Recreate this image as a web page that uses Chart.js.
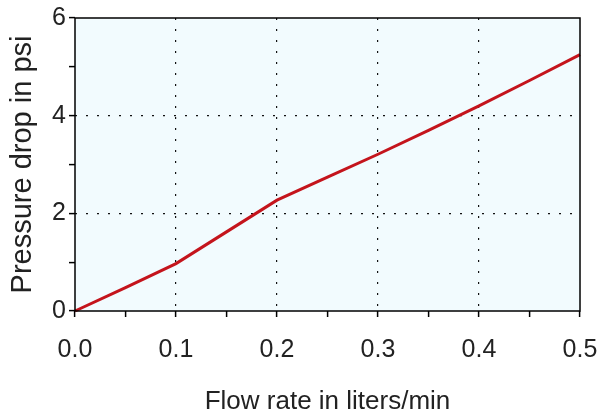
<!DOCTYPE html>
<html>
<head>
<meta charset="utf-8">
<script src="https://cdn.jsdelivr.net/npm/chart.js@4.4.1/dist/chart.umd.min.js"></script>
<style>
  html, body { margin: 0; padding: 0; background: #ffffff; }
  #wrap { width: 600px; height: 417px; }
</style>
</head>
<body>
<div id="wrap"><canvas id="flowChart" width="600" height="417"></canvas></div>
<script>
// flow rate (liters/min) vs pressure drop (psi)
var flowRates = [0.0, 0.05, 0.1, 0.15, 0.2, 0.25, 0.3, 0.35, 0.4, 0.45, 0.5];
var pressureDrop = [0.0, 0.48, 0.97, 1.62, 2.27, 2.74, 3.21, 3.70, 4.20, 4.72, 5.25];
var xTickLabels = ['0.0', '0.1', '0.2', '0.3', '0.4', '0.5'];
var yTickLabels = ['0', '2', '4', '6'];

var points = [];
flowRates.forEach(function (x, i) {
    points.push({ x: x, y: pressureDrop[i] });
});

var tickFont = { family: "'Liberation Sans', Arial, sans-serif", size: 25 };
var titleFont = { family: "'Liberation Sans', Arial, sans-serif", size: 26 };
var yTitleFont = { family: "'Liberation Sans', Arial, sans-serif", size: 29 };

// pale plot background and the closed black frame
var plotFrame = {
    id: 'plotFrame',
    beforeDraw: function (chart) {
        var a = chart.chartArea, c = chart.ctx;
        c.save();
        c.fillStyle = '#f2fbfe';
        c.fillRect(a.left, a.top, a.right - a.left, a.bottom - a.top);
        c.restore();
    },
    afterDatasetsDraw: function (chart) {
        var a = chart.chartArea, c = chart.ctx;
        c.save();
        c.strokeStyle = '#000';
        c.lineWidth = 1.5;
        c.strokeRect(a.left, a.top, a.right - a.left, a.bottom - a.top);
        c.restore();
    }
};

function isMajor(v, step) {
    return Math.abs(v / step - Math.round(v / step)) < 1e-6;
}

var ctx = document.getElementById('flowChart').getContext('2d');
var flowChart = new Chart(ctx, {
    type: 'line',
    data: {
        datasets: [{
            data: points,
            borderColor: '#c4141c',
            borderWidth: 3,
            pointRadius: 0,
            tension: 0,
            clip: false
        }]
    },
    options: {
        responsive: false,
        animation: false,
        layout: { padding: { top: 18, right: 20, left: 0, bottom: 0 } },
        plugins: { legend: { display: false }, tooltip: { enabled: false } },
        scales: {
            x: {
                type: 'linear',
                min: 0,
                max: 0.5,
                afterFit: function (scale) {
                    scale.height = 106;
                    scale.paddingLeft = 0;
                    scale.paddingRight = 0;
                },
                ticks: {
                    stepSize: 0.05,
                    color: '#222',
                    font: tickFont,
                    padding: 18,
                    maxRotation: 0,
                    autoSkip: false,
                    callback: function (v) {
                        if (!isMajor(v, 0.1)) return '';
                        return xTickLabels[Math.round(v / 0.1)];
                    }
                },
                grid: {
                    color: function (c) {
                        var v = c.tick ? c.tick.value : 0;
                        return (isMajor(v, 0.1) && v > 0.01 && v < 0.49) ? '#111' : 'rgba(0,0,0,0)';
                    },
                    lineWidth: 1.2,
                    tickColor: '#000',
                    tickLength: 6,
                    tickWidth: 1.5,
                    tickBorderDash: []
                },
                border: { display: false, dash: [2, 9] },
                title: {
                    display: true,
                    text: 'Flow rate in liters/min',
                    color: '#222',
                    font: titleFont,
                    padding: { top: 8, bottom: 0 }
                }
            },
            y: {
                min: 0,
                max: 6,
                afterFit: function (scale) {
                    scale.width = 75;
                    scale.paddingTop = 0;
                    scale.paddingBottom = 0;
                },
                ticks: {
                    stepSize: 1,
                    color: '#222',
                    font: tickFont,
                    padding: 3,
                    callback: function (v) {
                        if (!isMajor(v, 2)) return '';
                        return yTickLabels[Math.round(v / 2)];
                    }
                },
                grid: {
                    color: function (c) {
                        var v = c.tick ? c.tick.value : 0;
                        return (isMajor(v, 2) && v > 0 && v < 6) ? '#111' : 'rgba(0,0,0,0)';
                    },
                    lineWidth: 1.2,
                    tickColor: '#000',
                    tickLength: 6,
                    tickWidth: 1.5,
                    tickBorderDash: []
                },
                border: { display: false, dash: [2, 9] },
                title: {
                    display: true,
                    text: 'Pressure drop in psi',
                    color: '#222',
                    font: yTitleFont,
                    padding: { top: 6, bottom: 0 }
                }
            }
        }
    },
    plugins: [plotFrame]
});
</script>
</body>
</html>
